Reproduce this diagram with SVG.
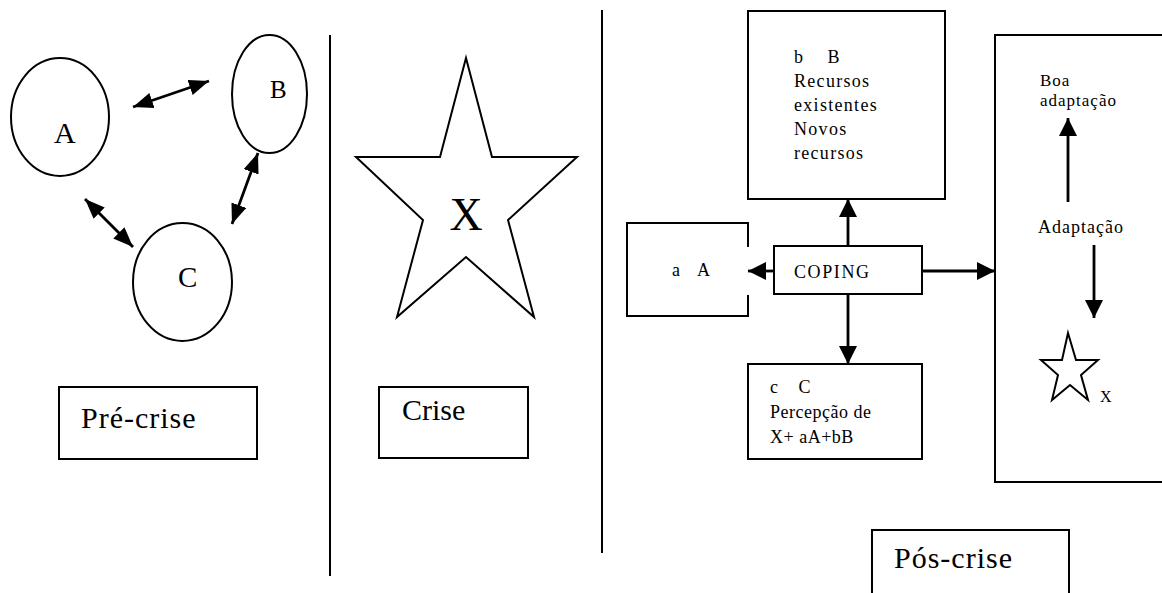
<svg xmlns="http://www.w3.org/2000/svg" width="1162" height="593" viewBox="0 0 1162 593">
<style>
.ln{fill:none;stroke:#000;stroke-width:2}
.box{fill:#fff;stroke:#000;stroke-width:2}
.t{font-family:"Liberation Serif","Times New Roman",serif;fill:#000}
.arr{fill:none;stroke:#000;stroke-width:2.8}
</style>
<defs>
<marker id="hd" markerUnits="userSpaceOnUse" markerWidth="20" markerHeight="16" refX="19" refY="7.5" orient="auto-start-reverse" viewBox="0 0 19 15">
<path d="M0,0 L19,7.5 L0,15 Z" fill="#000"/>
</marker>
<marker id="hd2" markerUnits="userSpaceOnUse" markerWidth="18" markerHeight="18" refX="17" refY="8.5" orient="auto" viewBox="0 0 17 17">
<path d="M0,0 L17,8.5 L0,17 Z" fill="#000"/>
</marker>
</defs>
<rect width="1162" height="593" fill="#fff"/>

<g id="dividers">
<line class="ln" x1="330" y1="35" x2="330" y2="576"/>
<line class="ln" x1="602" y1="10" x2="602" y2="553"/>
</g>

<g id="nodeA">
<ellipse class="box" cx="60" cy="117" rx="49" ry="59"/>
<text class="t" x="54" y="143" font-size="30">A</text>
</g>
<g id="nodeB">
<ellipse class="box" cx="269.5" cy="94" rx="37.5" ry="59"/>
<text class="t" x="270" y="98" font-size="25">B</text>
</g>
<g id="nodeC">
<ellipse class="box" cx="182.5" cy="282" rx="49.5" ry="59"/>
<text class="t" x="178" y="287" font-size="29">C</text>
</g>
<g id="precrise">
<rect class="box" x="59" y="387" width="198" height="72"/>
<text class="t" x="81" y="428" font-size="30" letter-spacing="1">Pré-crise</text>
</g>

<g id="starX">
<polygon class="box" points="466,58 492,157 577,157 508,220 534,317 466,257 397,317 423,220 356,157 440,157"/>
<text class="t" x="466" y="230" font-size="46" text-anchor="middle">X</text>
</g>
<g id="crise">
<rect class="box" x="379" y="387" width="149" height="71"/>
<text class="t" x="402" y="420" font-size="30">Crise</text>
</g>

<g id="boxB">
<rect class="box" x="748" y="11" width="197" height="188"/>
<text class="t" font-size="18" letter-spacing="1.3" xml:space="preserve"><tspan x="794" y="63">b    B</tspan><tspan x="794" y="87">Recursos</tspan><tspan x="794" y="111">existentes</tspan><tspan x="794" y="135">Novos</tspan><tspan x="794" y="159">recursos</tspan></text>
</g>
<g id="boxA">
<path class="ln" d="M748,247 L748,223 L627,223 L627,316 L748,316 L748,295"/>
<text class="t" x="672" y="276" font-size="18" xml:space="preserve">a    A</text>
</g>
<g id="coping">
<rect class="box" x="774" y="246" width="148" height="48"/>
<text class="t" x="794" y="278" font-size="18" letter-spacing="1.6">COPING</text>
</g>
<g id="boxC">
<rect class="box" x="748" y="364" width="174" height="95"/>
<text class="t" font-size="18" letter-spacing="0.5" xml:space="preserve"><tspan x="770" y="393">c    C</tspan><tspan x="770" y="418">Percepção de</tspan><tspan x="770" y="443">X+ aA+bB</tspan></text>
</g>
<g id="adaptBox">
<rect class="box" x="995" y="35" width="180" height="447"/>
<text class="t" font-size="17" letter-spacing="1"><tspan x="1040" y="86">Boa</tspan><tspan x="1040" y="106">adaptação</tspan></text>
<text class="t" x="1038" y="233" font-size="18" letter-spacing="1">Adaptação</text>
<polygon class="ln" stroke-width="1" points="1068,333 1076,360 1098,360 1081,375 1088,400 1070,385 1052,400 1058,375 1041,360 1062,360"/>
<text class="t" x="1100" y="402" font-size="16">X</text>
</g>
<g id="posCrise">
<rect class="box" x="872" y="530" width="197" height="80"/>
<text class="t" x="894" y="568" font-size="30" letter-spacing="1">Pós-crise</text>
</g>

<g id="connectors">
<line class="arr" x1="133" y1="107" x2="209" y2="81" marker-start="url(#hd)" marker-end="url(#hd)"/>
<line class="arr" x1="258" y1="153" x2="232" y2="224" marker-start="url(#hd)" marker-end="url(#hd)"/>
<line class="arr" x1="85" y1="199" x2="133" y2="247" marker-start="url(#hd)" marker-end="url(#hd)"/>
<line class="arr" stroke-width="3" x1="848" y1="246" x2="848" y2="199" marker-end="url(#hd2)"/>
<line class="arr" stroke-width="3" x1="774" y1="271" x2="748" y2="271" marker-end="url(#hd2)"/>
<line class="arr" stroke-width="3" x1="848" y1="294" x2="848" y2="364" marker-end="url(#hd2)"/>
<line class="arr" stroke-width="3" x1="922" y1="271" x2="995" y2="271" marker-end="url(#hd2)"/>
<line class="arr" stroke-width="4.5" x1="1068" y1="202" x2="1068" y2="118" marker-end="url(#hd2)"/>
<line class="arr" stroke-width="3" x1="1094" y1="245" x2="1094" y2="318" marker-end="url(#hd2)"/>
</g>
</svg>
